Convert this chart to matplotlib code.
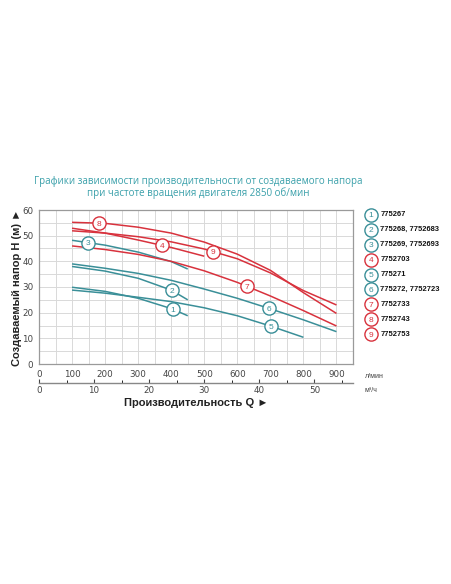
import numpy as np
import matplotlib
matplotlib.use("Agg")
import matplotlib.pyplot as plt

# ---------------- data ----------------
title = ["Графики зависимости производительности от создаваемого напора",
         "при частоте вращения двигателя 2850 об/мин"]
ylabel = "Создаваемый напор H (м) ►"
xlabel = "Производительность Q ►"
unit_lmin = "л/мин"
unit_m3h = "м³/ч"

curve_ids = ["1", "2", "3", "4", "5", "6", "7", "8", "9"]
legend_names = ["775267", "775268, 7752683", "775269, 7752693", "7752703", "775271",
                "775272, 7752723", "7752733", "7752743", "7752753"]
curve_kind = ["teal", "teal", "teal", "red", "teal", "teal", "red", "red", "red"]

q1 = [100, 200, 300, 400, 450]
h1 = [29.9, 28.3, 25.6, 21.6, 18.8]
q2 = [100, 200, 300, 400, 450]
h2 = [38.0, 36.2, 33.4, 28.8, 25.0]
q3 = [100, 200, 300, 400, 450]
h3 = [48.2, 46.3, 43.6, 39.9, 37.0]
q4 = [100, 200, 300, 400, 500]
h4 = [52.9, 51.0, 48.3, 45.4, 42.0]
q5 = [100, 200, 300, 400, 500, 600, 700, 800]
h5 = [28.8, 27.6, 26.0, 24.3, 21.9, 18.8, 14.8, 10.4]
q6 = [100, 200, 300, 400, 500, 600, 700, 800, 900]
h6 = [39.0, 37.3, 35.3, 32.6, 29.2, 25.6, 21.5, 17.2, 12.6]
q7 = [100, 200, 300, 400, 500, 600, 700, 800, 900]
h7 = [46.0, 44.6, 42.7, 40.0, 36.3, 31.8, 26.5, 20.8, 14.8]
q8 = [100, 200, 300, 400, 500, 600, 700, 800, 900]
h8 = [55.2, 54.8, 53.3, 51.0, 47.5, 42.8, 36.5, 27.8, 19.7]
q9 = [100, 200, 300, 400, 500, 600, 700, 800, 900]
h9 = [51.9, 51.0, 49.6, 47.6, 44.8, 41.0, 35.5, 28.6, 23.0]

label_q = [404, 401, 149, 371, 701, 696, 630, 181, 527]

# ---------------- style ----------------
TEAL = "#3a8f98"
RED = "#d8323d"
TITLE_C = "#3aa0aa"
colors = {"teal": TEAL, "red": RED}

fig = plt.figure(figsize=(4.52, 5.84), dpi=100)
W, H = 452, 584

def fx(px):
    return px / W

def fy(py):
    return 1 - py / H

ax_l, ax_r, ax_t, ax_b = 39, 353, 210, 364
ax = fig.add_axes([fx(ax_l), fy(ax_b), (ax_r - ax_l) / W, (ax_b - ax_t) / H])
ax.set_xlim(0, 950)
ax.set_ylim(0, 60)
ax.set_xticks(np.arange(0, 951, 50), minor=True)
ax.set_yticks(np.arange(0, 61, 5), minor=True)
ax.set_xticks(np.arange(0, 901, 100))
ax.set_yticks(np.arange(0, 61, 10))
ax.grid(True, which="both", color="#d9d9d9", lw=0.7)
ax.set_axisbelow(True)
ax.tick_params(which="both", length=0, labelsize=6.3, colors="#444444", pad=4)
for s in ax.spines.values():
    s.set_color("#9a9a9a")
    s.set_linewidth(0.9)

qs = [q1, q2, q3, q4, q5, q6, q7, q8, q9]
hs = [h1, h2, h3, h4, h5, h6, h7, h8, h9]
for q, h, kind in zip(qs, hs, curve_kind):
    ax.plot(q, h, color=colors[kind], lw=1.1, solid_capstyle="butt", zorder=3)

for cid, q, h, lq, kind in zip(curve_ids, qs, hs, label_q, curve_kind):
    lh = np.interp(lq, q, h)
    c = colors[kind]
    ax.plot([lq], [lh], marker="o", ms=9.5, mfc="white", mec=c, mew=1.0, zorder=5)
    ax.text(lq, lh, cid, color=c, fontsize=6, ha="center", va="center_baseline",
            zorder=6, family="Liberation Sans")

# secondary axis in m3/h
sec = ax.secondary_xaxis(-0.123, functions=(lambda q: np.asarray(q) * 0.06,
                                            lambda m: np.asarray(m) / 0.06))
sec.set_xticks(np.arange(0, 51, 10))
sec.set_xticks(np.arange(0, 57, 5), minor=True)
sec.tick_params(which="major", length=3, direction="in", labelsize=6.3,
                colors="#444444", pad=2)
sec.tick_params(which="minor", length=2, direction="in")
sec.spines["bottom"].set_color("#888888")
sec.spines["bottom"].set_linewidth(1.0)

# axis titles
fig.text(fx(17), fy(287), ylabel, rotation=90, ha="center", va="center",
         fontsize=8, fontweight="bold", color="#222222", family="Liberation Sans")
fig.text(fx(196), fy(403), xlabel, ha="center", va="center",
         fontsize=8, fontweight="bold", color="#222222", family="Liberation Sans")
fig.text(fx(365), fy(376), unit_lmin, ha="left", va="center", fontsize=5,
         color="#444444", family="Liberation Sans")
fig.text(fx(365), fy(391), unit_m3h, ha="left", va="center", fontsize=5,
         color="#444444", family="Liberation Sans")

# title
fig.text(fx(198), fy(181), title[0], ha="center", va="center", fontsize=7.05,
         color=TITLE_C, family="Open Sans")
fig.text(fx(198), fy(193.5), title[1], ha="center", va="center", fontsize=7.05,
         color=TITLE_C, family="Open Sans")

# legend
leg_y0, leg_dy = 214.7, 14.95
for i, (cid, name, kind) in enumerate(zip(curve_ids, legend_names, curve_kind)):
    y = leg_y0 + i * leg_dy
    c = colors[kind]
    fig.lines.append(plt.Line2D([fx(371)], [fy(y)], marker="o", ms=9.5, mfc="white",
                                mec=c, mew=1.0, transform=fig.transFigure))
    fig.text(fx(371), fy(y), cid, color=c, fontsize=6, ha="center",
             va="center_baseline", family="Liberation Sans")
    fig.text(fx(380.5), fy(y), name, color="#111111", fontsize=5.4, ha="left",
             va="center", fontweight="bold", family="Liberation Sans")

fig.savefig("out.png", dpi=100, facecolor="white")
